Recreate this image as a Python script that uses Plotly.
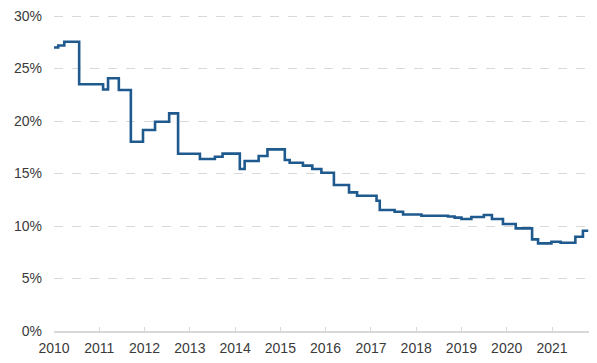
import plotly.graph_objects as go

dates = [
    "2010-01-01", "2010-02-04", "2010-03-25", "2010-07-23", "2011-02-01", "2011-03-13",
    "2011-06-08", "2011-09-13", "2011-12-20", "2012-03-26", "2012-07-18", "2012-09-28",
    "2013-03-23", "2013-07-22", "2013-09-22", "2014-02-08", "2014-03-19", "2014-07-10",
    "2014-09-19", "2015-02-06", "2015-03-17", "2015-07-02", "2015-09-16", "2015-11-28",
    "2016-03-08", "2016-07-08", "2016-09-11", "2017-02-15", "2017-03-13", "2017-07-11",
    "2017-09-17", "2018-02-12", "2018-09-14", "2018-11-07", "2019-01-01", "2019-03-22",
    "2019-07-01", "2019-09-04", "2019-12-02", "2020-03-14", "2020-07-24", "2020-09-10",
    "2020-12-27", "2021-03-11", "2021-07-08", "2021-09-07", "2021-10-20",
]
values = [
    27.0, 27.2, 27.55, 23.5, 23.0, 24.07,
    22.95, 18.03, 19.14, 19.93, 20.73, 16.88,
    16.38, 16.6, 16.9, 15.43, 16.2, 16.67,
    17.3, 16.29, 16.03, 15.75, 15.43, 15.08,
    13.9, 13.2, 12.89, 12.4, 11.52, 11.36,
    11.1, 10.98, 10.9, 10.8, 10.67, 10.86,
    11.05, 10.67, 10.19, 9.78, 8.73, 8.35,
    8.5, 8.41, 8.98, 9.55, 9.55,
]
y_ticks = [0, 5, 10, 15, 20, 25, 30]
y_tick_labels = ["0%", "5%", "10%", "15%", "20%", "25%", "30%"]
x_ticks = [f"{y}-01-01" for y in range(2010, 2022)]
x_tick_labels = [str(y) for y in range(2010, 2022)]

fig = go.Figure()
fig.add_trace(go.Scatter(
    x=dates, y=values, mode="lines",
    line=dict(shape="hv", color="#1f5a8f", width=2.6),
    hoverinfo="skip",
))

font = dict(family="Liberation Sans, Arial, sans-serif", size=14, color="#3a3a3a")
# page body has an 8px margin, so the figure is offset by (8, 8) on screen
fig.update_layout(
    width=597, height=363,
    margin=dict(l=46, r=16, t=7, b=40),
    paper_bgcolor="white", plot_bgcolor="white",
    showlegend=False,
    font=font,
)
fig.update_xaxes(
    range=["2010-01-01", "2021-10-26"], automargin=False,
    tickmode="array", tickvals=x_ticks, ticktext=x_tick_labels,
    showgrid=False, showline=True, linecolor="#d9d9d9", linewidth=1.5,
    ticks="inside", ticklen=4, tickcolor="#d9d9d9",
    zeroline=False, tickfont=font, ticklabelstandoff=3,
    ticklabeloverflow="allow",
)
fig.update_yaxes(
    range=[0, 30.1], automargin=False,
    tickmode="array", tickvals=y_ticks, ticktext=y_tick_labels,
    showgrid=True, gridcolor="#d9d9d9", griddash="dash", gridwidth=1,
    showline=False, zeroline=False, ticks="", ticklabelstandoff=11,
    tickfont=font, ticklabeloverflow="allow",
)
fig.write_html("out.html")
